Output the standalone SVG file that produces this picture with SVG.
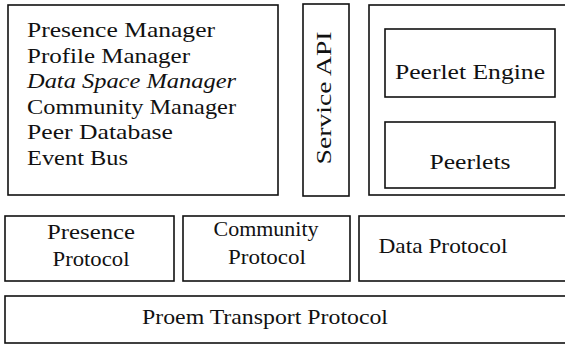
<svg xmlns="http://www.w3.org/2000/svg" width="565" height="344" viewBox="0 0 565 344">
<style>
rect{fill:none;stroke:#111;stroke-width:1.6}
text{font-family:"Liberation Serif","Times New Roman",serif;font-size:22px;fill:#111}
.m{text-anchor:middle}
</style>
<rect x="0" y="0" width="565" height="344" style="fill:#fff;stroke:none"/>
<g id="managers">
<rect x="8" y="5" width="270" height="190"/>
<text x="27" y="37" textLength="188" lengthAdjust="spacingAndGlyphs">Presence Manager</text>
<text x="27" y="62.5" textLength="163" lengthAdjust="spacingAndGlyphs">Profile Manager</text>
<text x="27" y="88" textLength="209" lengthAdjust="spacingAndGlyphs" font-style="italic">Data Space Manager</text>
<text x="27" y="113.5" textLength="209" lengthAdjust="spacingAndGlyphs">Community Manager</text>
<text x="27" y="139" textLength="146" lengthAdjust="spacingAndGlyphs">Peer Database</text>
<text x="27" y="164.5" textLength="101" lengthAdjust="spacingAndGlyphs">Event Bus</text>
</g>
<g id="service-api">
<rect x="303" y="4" width="46" height="192"/>
<text class="m" transform="translate(331,98) rotate(-90)" textLength="133" lengthAdjust="spacingAndGlyphs">Service API</text>
</g>
<g id="peerlet-container">
<rect x="369" y="5" width="210" height="190"/>
</g>
<g id="peerlet-engine">
<rect x="385" y="29" width="170" height="68"/>
<text class="m" x="470" y="79" textLength="150" lengthAdjust="spacingAndGlyphs">Peerlet Engine</text>
</g>
<g id="peerlets">
<rect x="385" y="122" width="170" height="66"/>
<text class="m" x="470" y="169" textLength="81" lengthAdjust="spacingAndGlyphs">Peerlets</text>
</g>
<g id="presence-protocol">
<rect x="5" y="216" width="169" height="65"/>
<text class="m" x="91" y="239" textLength="88" lengthAdjust="spacingAndGlyphs">Presence</text>
<text class="m" x="91" y="266" textLength="77" lengthAdjust="spacingAndGlyphs">Protocol</text>
</g>
<g id="community-protocol">
<rect x="183" y="216" width="167" height="65"/>
<text class="m" x="266" y="236" textLength="105" lengthAdjust="spacingAndGlyphs">Community</text>
<text class="m" x="267" y="264" textLength="78" lengthAdjust="spacingAndGlyphs">Protocol</text>
</g>
<g id="data-protocol">
<rect x="359" y="216" width="220" height="65"/>
<text class="m" x="443" y="253" textLength="129" lengthAdjust="spacingAndGlyphs">Data Protocol</text>
</g>
<g id="proem-transport">
<rect x="5" y="296" width="580" height="47"/>
<text class="m" x="265" y="324" textLength="246" lengthAdjust="spacingAndGlyphs">Proem Transport Protocol</text>
</g>
<g id="connectors"/>
</svg>
